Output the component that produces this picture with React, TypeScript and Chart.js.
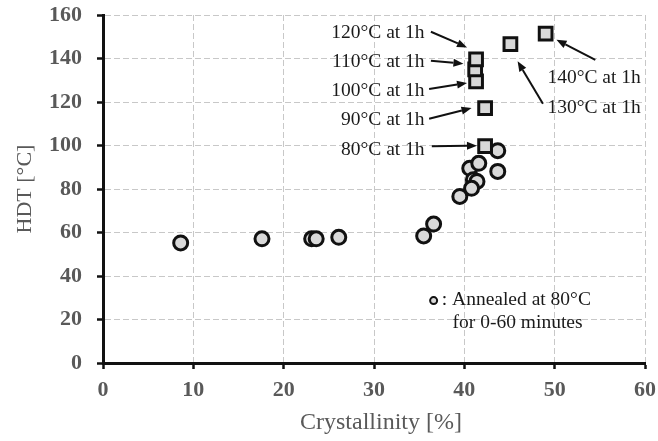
import React, { useEffect, useRef } from 'react';
import { Chart, registerables } from 'chart.js';

Chart.register(...registerables);

// Circles: annealed at 80°C for 0-60 minutes
const annealedCrystallinity = [8.6, 17.6, 23.1, 23.6, 26.1, 35.5, 36.6, 39.5, 40.6, 41.6, 43.7, 41.0, 41.4, 40.8, 43.7];
const annealedHDT = [55.2, 57.1, 57.1, 57.1, 57.8, 58.4, 63.9, 76.6, 89.5, 91.8, 88.1, 84.3, 83.5, 80.3, 97.6];

// Squares: annealed at higher temperatures for 1 h
const treatmentLabels = ['80°C at 1h', '90°C at 1h', '100°C at 1h', '110°C at 1h', '120°C at 1h', '130°C at 1h', '140°C at 1h'];
const treatmentCrystallinity = [42.3, 42.3, 41.3, 41.2, 41.3, 45.1, 49.0];
const treatmentHDT = [99.7, 117.2, 129.5, 135.0, 139.6, 146.6, 151.4];

// Annotation anchors (data units)
const labelAnchorX = [35.6, 35.6, 35.6, 35.6, 35.6, 49.2, 49.2];
const labelAnchorY = [95.7, 109.2, 122.6, 135.9, 149.4, 114.9, 128.7];
const labelAlign = ['right', 'right', 'right', 'right', 'right', 'left', 'left'];
const arrowFromX = [36.4, 36.1, 36.1, 36.3, 36.3, 48.7, 54.5];
const arrowFromY = [99.6, 112.3, 126.0, 139.0, 152.3, 119.2, 139.4];
const arrowToX = [41.4, 40.8, 40.3, 39.9, 40.3, 45.9, 50.2];
const arrowToY = [99.9, 117.2, 128.7, 137.6, 145.1, 138.7, 148.6];

const legendLines = [': Annealed at 80°C', 'for 0-60 minutes'];
const legendMarker = { x: 36.6, y: 28.7 };
const legendTextX = [37.5, 38.7];
const legendTextY = [26.8, 16.2];

const xTitle = 'Crystallinity [%]';
const yTitle = 'HDT [°C]';

const SERIF = '"Liberation Serif", "Times New Roman", serif';

const annotationPlugin = {
  id: 'annotationPlugin',
  afterDatasetsDraw(chart: any) {
    const { ctx } = chart;
    const xs = chart.scales.x;
    const ys = chart.scales.y;
    ctx.save();
    // arrows
    ctx.strokeStyle = '#111';
    ctx.fillStyle = '#111';
    ctx.lineWidth = 2;
    for (let i = 0; i < arrowFromX.length; i++) {
      const x1 = xs.getPixelForValue(arrowFromX[i]);
      const y1 = ys.getPixelForValue(arrowFromY[i]);
      const x2 = xs.getPixelForValue(arrowToX[i]);
      const y2 = ys.getPixelForValue(arrowToY[i]);
      const ang = Math.atan2(y2 - y1, x2 - x1);
      const head = 10;
      const half = 4;
      const bx = x2 - head * Math.cos(ang);
      const by = y2 - head * Math.sin(ang);
      ctx.beginPath();
      ctx.moveTo(x1, y1);
      ctx.lineTo(bx, by);
      ctx.stroke();
      ctx.beginPath();
      ctx.moveTo(x2, y2);
      ctx.lineTo(bx + half * Math.sin(ang), by - half * Math.cos(ang));
      ctx.lineTo(bx - half * Math.sin(ang), by + half * Math.cos(ang));
      ctx.closePath();
      ctx.fill();
    }
    // labels
    ctx.font = '19.5px ' + SERIF;
    ctx.fillStyle = '#1a1a1a';
    ctx.textBaseline = 'alphabetic';
    for (let i = 0; i < treatmentLabels.length; i++) {
      ctx.textAlign = labelAlign[i];
      ctx.fillText(treatmentLabels[i], xs.getPixelForValue(labelAnchorX[i]), ys.getPixelForValue(labelAnchorY[i]));
    }
    // legend
    const mx = xs.getPixelForValue(legendMarker.x);
    const my = ys.getPixelForValue(legendMarker.y);
    ctx.beginPath();
    ctx.arc(mx, my, 3.5, 0, Math.PI * 2);
    ctx.fillStyle = '#d9d9d9';
    ctx.fill();
    ctx.lineWidth = 2;
    ctx.strokeStyle = '#111';
    ctx.stroke();
    ctx.fillStyle = '#1a1a1a';
    ctx.textAlign = 'left';
    for (let i = 0; i < legendLines.length; i++) {
      ctx.fillText(legendLines[i], xs.getPixelForValue(legendTextX[i]), ys.getPixelForValue(legendTextY[i]));
    }
    ctx.restore();
  },
  afterDraw(chart: any) {
    const { ctx, chartArea } = chart;
    ctx.save();
    ctx.font = '24px ' + SERIF;
    ctx.fillStyle = '#595959';
    ctx.textAlign = 'center';
    ctx.textBaseline = 'alphabetic';
    ctx.fillText(xTitle, (chartArea.left + chartArea.right) / 2 + 7, chartArea.bottom + 66);
    ctx.restore();
  },
};

function zeroPadding(s: any) {
  s.paddingTop = 0;
  s.paddingBottom = 0;
  s.paddingLeft = 0;
  s.paddingRight = 0;
}

export default function App() {
  const canvasRef = useRef<HTMLCanvasElement | null>(null);

  useEffect(() => {
    document.body.style.margin = '0';
    const canvas = canvasRef.current;
    if (!canvas) return;
    const tickFont = { family: SERIF, size: 22, weight: 'bold' as const };
    const titleFont = { family: SERIF, size: 22 };
    const chart = new Chart(canvas, {
      type: 'scatter',
      data: {
        datasets: [
          {
            label: 'Annealed at 1h',
            data: treatmentCrystallinity.map((v, i) => ({ x: v, y: treatmentHDT[i] })),
            pointStyle: 'rect',
            pointRadius: 9,
            backgroundColor: '#d9d9d9',
            borderColor: '#111',
            borderWidth: 3,
          },
          {
            label: 'Annealed at 80°C for 0-60 minutes',
            data: annealedCrystallinity.map((v, i) => ({ x: v, y: annealedHDT[i] })),
            pointStyle: 'circle',
            pointRadius: 7,
            backgroundColor: '#d9d9d9',
            borderColor: '#111',
            borderWidth: 3,
          },
        ],
      },
      options: {
        responsive: false,
        animation: false,
        events: [],
        layout: { padding: { top: 15, right: 13, left: 0, bottom: 0 } },
        plugins: { legend: { display: false }, tooltip: { enabled: false } },
        scales: {
          x: {
            type: 'linear',
            min: 0,
            max: 60,
            afterFit: (s: any) => { s.height = 78; zeroPadding(s); },
            ticks: { stepSize: 10, font: tickFont, color: '#595959', padding: 8 },
            grid: { color: '#c8c8c8', lineWidth: 1, tickLength: 6, tickColor: '#111', tickWidth: 2.5 },
            border: { color: '#111', width: 3, dash: [6, 3] },
            title: { display: false, text: xTitle },
          },
          y: {
            type: 'linear',
            min: 0,
            max: 160,
            afterFit: (s: any) => { s.width = 103; zeroPadding(s); },
            ticks: { stepSize: 20, font: tickFont, color: '#595959', padding: 15 },
            grid: { color: '#c8c8c8', lineWidth: 1, tickLength: 6, tickColor: '#111', tickWidth: 2.5 },
            border: { color: '#111', width: 3, dash: [6, 3] },
            title: { display: true, text: yTitle, font: titleFont, color: '#595959', padding: { top: 12, bottom: 0 } },
          },
        },
      },
      plugins: [annotationPlugin],
    } as any);
    return () => chart.destroy();
  }, []);

  return (
    <div style={{ position: 'absolute', left: 0, top: 0, width: 658, height: 441, background: '#fff' }}>
      <canvas ref={canvasRef} width={658} height={441} />
    </div>
  );
}
